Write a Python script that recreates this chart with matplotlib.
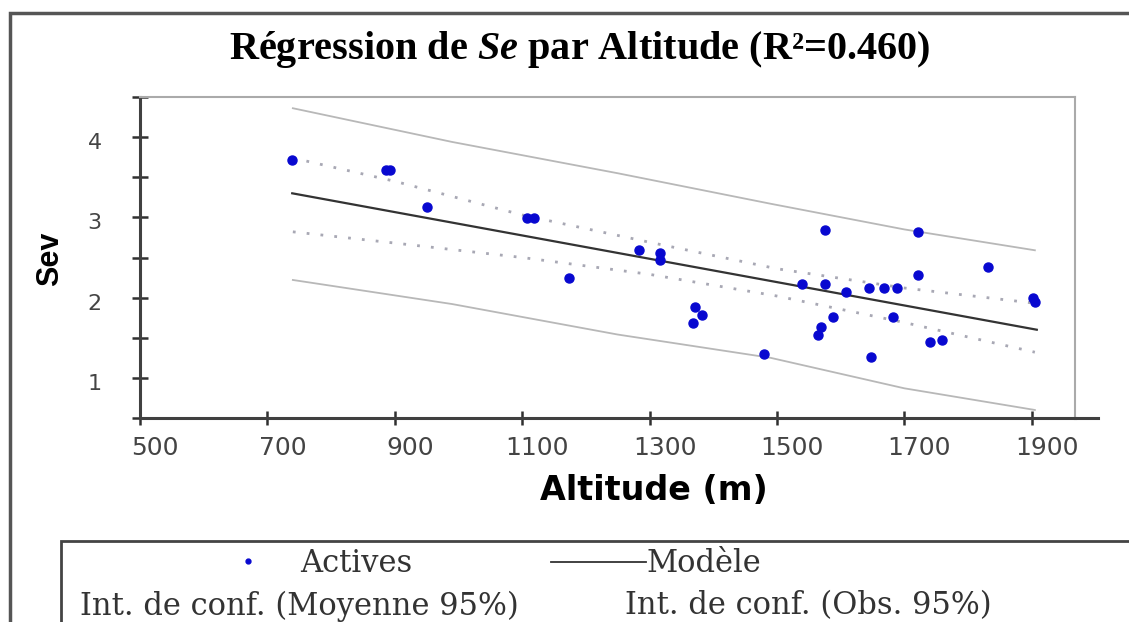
import matplotlib
matplotlib.use('Agg')
import matplotlib.pyplot as plt
from matplotlib.lines import Line2D
from matplotlib.patches import Rectangle
from matplotlib.ticker import MultipleLocator
from matplotlib.transforms import ScaledTranslation

plt.rcParams['mathtext.fontset'] = 'custom'
plt.rcParams['mathtext.rm'] = 'Liberation Serif'
plt.rcParams['mathtext.bfit'] = 'Liberation Serif:italic:bold'

# points observés (Altitude en m, Sev)
altitude = [738, 886, 892, 950, 1107, 1118, 1173, 1284, 1316, 1316, 1368, 1372,
            1383, 1479, 1539, 1564, 1569, 1576, 1576, 1588, 1609, 1644, 1647,
            1668, 1683, 1689, 1721, 1722, 1741, 1759, 1832, 1902, 1905]
sev = [3.72, 3.59, 3.59, 3.13, 2.99, 2.99, 2.24, 2.59, 2.56, 2.47, 1.68, 1.88,
       1.78, 1.30, 2.17, 1.53, 1.63, 2.84, 2.17, 1.76, 2.07, 2.12, 1.26,
       2.12, 1.76, 2.12, 2.28, 2.82, 1.45, 1.47, 2.38, 1.99, 1.94]

# droite du modèle
model_alt = [739, 1908]
model_sev = [3.30, 1.60]

# intervalle de confiance de la moyenne (95%)
ci_mean_alt = [740, 900, 1100, 1300, 1500, 1700, 1905]
ci_mean_upper = [3.74, 3.45, 3.03, 2.69, 2.36, 2.12, 1.93]
ci_mean_lower = [2.82, 2.68, 2.50, 2.29, 2.02, 1.69, 1.32]

# intervalle de confiance des observations (95%)
ci_obs_alt = [740, 990, 1250, 1490, 1700, 1905]
ci_obs_upper = [4.36, 3.94, 3.55, 3.17, 2.85, 2.59]
ci_obs_lower = [2.22, 1.92, 1.54, 1.25, 0.87, 0.60]

x_ticks = [500, 700, 900, 1100, 1300, 1500, 1700, 1900]
y_ticks = [1, 2, 3, 4]

W, H = 1129, 622
fig = plt.figure(figsize=(W / 100, H / 100), dpi=100)
ax = fig.add_axes([140 / W, 1 - 418 / H, (1075 - 140) / W, (418 - 97) / H])

# intervalles et modèle
ax.plot(ci_obs_alt, ci_obs_upper, color='#b8b8b8', lw=1.3)
ax.plot(ci_obs_alt, ci_obs_lower, color='#b8b8b8', lw=1.3)
ax.plot(ci_mean_alt, ci_mean_upper, color='#a8a8b4', lw=2, linestyle=(0, (1, 4)))
ax.plot(ci_mean_alt, ci_mean_lower, color='#a8a8b4', lw=2, linestyle=(0, (1, 4)))
ax.plot(model_alt, model_sev, color='#333333', lw=1.6)
ax.plot(altitude, sev, 'o', color='#0808d0', ms=6.5, mec='#0808d0')

ax.set_xlim(500, 1968)
ax.set_ylim(0.5, 4.5)
ax.set_xticks(x_ticks)
ax.set_yticks(y_ticks)
ax.yaxis.set_minor_locator(MultipleLocator(0.5))

for s in ['left', 'bottom']:
    ax.spines[s].set_color('#404040')
    ax.spines[s].set_linewidth(2.2)
for s in ['top', 'right']:
    ax.spines[s].set_color('#aaaaaa')
    ax.spines[s].set_linewidth(1.5)
# l'axe des x dépasse un peu le cadre
ax.plot([1, 1.025], [0, 0], transform=ax.transAxes, color='#404040', lw=2.2,
        clip_on=False)

ax.tick_params(axis='x', direction='inout', length=10, width=1.8, color='#303030',
               labelsize=18, labelcolor='#444444', pad=8)
ax.tick_params(axis='y', which='both', direction='inout', length=11, width=1.8,
               color='#303030', labelsize=16, labelcolor='#444444', pad=22)
for lab in ax.get_xticklabels():
    lab.set_transform(lab.get_transform() + ScaledTranslation(0.15, 0, fig.dpi_scale_trans))
for lab in ax.get_yticklabels():
    lab.set_transform(lab.get_transform() + ScaledTranslation(0, -0.04, fig.dpi_scale_trans))

# titres
fig.text(580 / W, 1 - 50 / H, 'Régression de $\\mathbfit{Se}$ par Altitude (R²=0.460)',
         ha='center', va='center', fontsize=29, fontweight='bold',
         family='Liberation Serif')
fig.text(654 / W, 1 - 491 / H, 'Altitude (m)', ha='center', va='center',
         fontsize=24, fontweight='bold', family='DejaVu Sans')
fig.text(50 / W, 1 - 259 / H, 'Sev', ha='center', va='center', rotation=90,
         fontsize=22, fontweight='bold', family='Liberation Sans')

# cadre de la figure
fig.add_artist(Rectangle((10 / W, -0.1), 1.2, 1.1 - 13 / H, transform=fig.transFigure,
                         fill=False, ec='#555555', lw=2.5, clip_on=False))

# légende
fig.add_artist(Rectangle((61 / W, -0.1), 1.2, 0.1 + 1 - 541 / H, transform=fig.transFigure,
                         fill=False, ec='#444444', lw=2, clip_on=False))
fig.add_artist(Line2D([248 / W], [1 - 561 / H], marker='o', ms=3.5, color='#0808d0',
                      transform=fig.transFigure))
fig.text(300 / W, 1 - 563 / H, 'Actives', ha='left', va='center', fontsize=22,
         family='DejaVu Serif', color='#333333')
fig.add_artist(Line2D([551 / W, 646 / W], [1 - 562 / H, 1 - 562 / H], color='#333333',
                      lw=1.3, transform=fig.transFigure))
fig.text(647 / W, 1 - 563 / H, 'Modèle', ha='left', va='center', fontsize=22,
         family='DejaVu Serif', color='#333333')
fig.text(80 / W, 1 - 606 / H, 'Int. de conf. (Moyenne 95%)', ha='left', va='center',
         fontsize=22, family='DejaVu Serif', color='#333333')
fig.text(625 / W, 1 - 606 / H, 'Int. de conf. (Obs. 95%)', ha='left', va='center',
         fontsize=22, family='DejaVu Serif', color='#333333')

fig.savefig('out.png', dpi=100)
